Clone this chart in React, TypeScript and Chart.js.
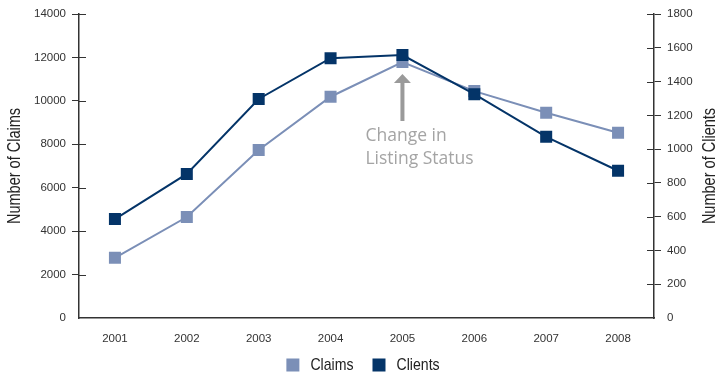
import React, { useEffect, useRef } from 'react';
import { Chart, registerables } from 'chart.js';
Chart.register(...registerables);

const years = ['2001', '2002', '2003', '2004', '2005', '2006', '2007', '2008'];
const claims = [2770, 4650, 7740, 10190, 11790, 10450, 9450, 8530];
const clients = [586, 853, 1297, 1538, 1557, 1325, 1073, 872];
const claimsTitle = 'Number of Claims';
const clientsTitle = 'Number of Clients';
const annotationLines = ['Change in', 'Listing Status'];
const annotationIndex = 4;

const SANS = "'Liberation Sans', Arial, sans-serif";
const AXIS = '#333333';
const CLAIMS_COLOR = '#7b8fb7';
const CLIENTS_COLOR = '#043468';
const SQUEEZE = 0.83;

function condensedText(ctx: any, text: string, x: number, y: number, size: number, rot: number, align: string) {
  ctx.save();
  ctx.translate(x, y);
  if (rot) ctx.rotate(rot);
  ctx.scale(SQUEEZE, 1);
  ctx.font = `${size}px ${SANS}`;
  ctx.fillStyle = '#222';
  ctx.textAlign = align;
  ctx.textBaseline = 'middle';
  ctx.fillText(text, 0, 0);
  ctx.restore();
}

const tickCross = {
  id: 'tickCross',
  beforeDatasetsDraw(chart: any) {
    const ctx = chart.ctx;
    ['y', 'y1'].forEach((id) => {
      const s = chart.scales[id];
      ctx.save();
      ctx.strokeStyle = AXIS;
      ctx.lineWidth = 1;
      s.ticks.forEach((_t: any, i: number) => {
        if (i === 0) return;
        const y = Math.round(s.getPixelForTick(i)) + 0.5;
        ctx.beginPath();
        if (s.position === 'left') {
          ctx.moveTo(s.right, y);
          ctx.lineTo(s.right + 7, y);
        } else {
          ctx.moveTo(s.left - 7, y);
          ctx.lineTo(s.left, y);
        }
        ctx.stroke();
      });
      ctx.restore();
    });
  },
};

const titlesAndLegend = {
  id: 'titlesAndLegend',
  afterDraw(chart: any) {
    const ctx = chart.ctx;
    const area = chart.chartArea;
    const midY = (area.top + area.bottom) / 2;
    condensedText(ctx, claimsTitle, 15, midY, 17.5, -Math.PI / 2, 'center');
    condensedText(ctx, clientsTitle, chart.width - 9, midY, 17.5, -Math.PI / 2, 'center');

    // legend
    const size = 17;
    const box = 13;
    const gapText = 11;
    const gapItem = 19;
    ctx.save();
    ctx.font = `${size}px ${SANS}`;
    const items = chart.data.datasets.map((d: any) => ({
      label: d.label,
      color: d.backgroundColor,
      w: ctx.measureText(d.label).width * SQUEEZE,
    }));
    ctx.restore();
    let total = 0;
    items.forEach((it: any, i: number) => {
      total += box + gapText + it.w + (i < items.length - 1 ? gapItem : 0);
    });
    const center = ((area.left + area.right) / 2 + chart.width / 2) / 2;
    let x = center - total / 2;
    const cy = 365;
    items.forEach((it: any) => {
      ctx.save();
      ctx.fillStyle = it.color;
      ctx.fillRect(x, cy - box / 2, box, box);
      ctx.restore();
      x += box + gapText;
      condensedText(ctx, it.label, x, cy, size, 0, 'left');
      x += it.w + gapItem;
    });
  },
};

const annotation = {
  id: 'listingAnnotation',
  afterDatasetsDraw(chart: any) {
    const ctx = chart.ctx;
    const x = chart.scales.x.getPixelForValue(annotationIndex);
    const yPt = chart.scales.y.getPixelForValue(claims[annotationIndex]);
    const tip = yPt + 12;
    ctx.save();
    ctx.fillStyle = '#9a9a9a';
    ctx.beginPath();
    ctx.moveTo(x, tip);
    ctx.lineTo(x + 8.5, tip + 9);
    ctx.lineTo(x + 2, tip + 9);
    ctx.lineTo(x + 2, tip + 47);
    ctx.lineTo(x - 2, tip + 47);
    ctx.lineTo(x - 2, tip + 9);
    ctx.lineTo(x - 8.5, tip + 9);
    ctx.closePath();
    ctx.fill();
    ctx.fillStyle = '#a4a4a4';
    ctx.font = "17.5px 'Open Sans', sans-serif";
    ctx.textAlign = 'left';
    ctx.textBaseline = 'alphabetic';
    ctx.fillText(annotationLines[0], x - 37, tip + 67);
    ctx.fillText(annotationLines[1], x - 37, tip + 90);
    ctx.restore();
  },
};

export default function App() {
  const ref = useRef<HTMLCanvasElement>(null);
  useEffect(() => {
    if (!ref.current) return;
    const tickFont = { family: SANS, size: 11.5 };
    const chart = new Chart(ref.current, {
      type: 'line',
      data: {
        labels: years,
        datasets: [
          {
            label: 'Claims',
            data: claims,
            yAxisID: 'y',
            borderColor: CLAIMS_COLOR,
            backgroundColor: CLAIMS_COLOR,
            borderWidth: 2,
            pointStyle: 'rect',
            pointRadius: 8.5,
            pointBorderWidth: 0,
            pointBackgroundColor: CLAIMS_COLOR,
            tension: 0,
            order: 1,
          },
          {
            label: 'Clients',
            data: clients,
            yAxisID: 'y1',
            borderColor: CLIENTS_COLOR,
            backgroundColor: CLIENTS_COLOR,
            borderWidth: 2,
            pointStyle: 'rect',
            pointRadius: 8.5,
            pointBorderWidth: 0,
            pointBackgroundColor: CLIENTS_COLOR,
            tension: 0,
            order: 0,
          },
        ],
      },
      options: {
        animation: false,
        responsive: false,
        maintainAspectRatio: false,
        layout: { padding: { top: 14, left: 0, right: 0, bottom: 0 } },
        plugins: {
          tooltip: { enabled: false },
          legend: { display: false },
        },
        scales: {
          x: {
            offset: true,
            grid: { display: false, drawTicks: false },
            border: { display: true, color: AXIS, width: 1.5 },
            ticks: { color: '#333', padding: 14, font: tickFont },
            afterFit: (s: any) => {
              s.height = 59;
            },
          },
          y: {
            position: 'left',
            min: 0,
            max: 14000,
            ticks: {
              stepSize: 2000,
              color: '#333',
              padding: 6,
              font: tickFont,
              callback: (v: any) => String(v),
            },
            grid: {
              drawOnChartArea: false,
              drawTicks: true,
              tickLength: 7,
              color: (c: any) => (c.index === 0 ? 'rgba(0,0,0,0)' : AXIS),
            },
            border: { display: true, color: AXIS, width: 1.5 },
            afterFit: (s: any) => {
              s.width = 79;
            },
          },
          y1: {
            position: 'right',
            min: 0,
            max: 1800,
            ticks: {
              stepSize: 200,
              color: '#333',
              padding: 6,
              font: tickFont,
              callback: (v: any) => String(v),
            },
            grid: {
              drawOnChartArea: false,
              drawTicks: true,
              tickLength: 7,
              color: (c: any) => (c.index === 0 ? 'rgba(0,0,0,0)' : AXIS),
            },
            border: { display: true, color: AXIS, width: 1.5 },
            afterFit: (s: any) => {
              s.width = 65;
            },
          },
        },
      },
      plugins: [tickCross, annotation, titlesAndLegend],
    });
    return () => chart.destroy();
  }, []);
  return (
    <div style={{ position: 'fixed', left: 0, top: 0, width: 719, height: 377, background: '#fff' }}>
      <canvas ref={ref} width={719} height={377} style={{ display: 'block' }} />
    </div>
  );
}
